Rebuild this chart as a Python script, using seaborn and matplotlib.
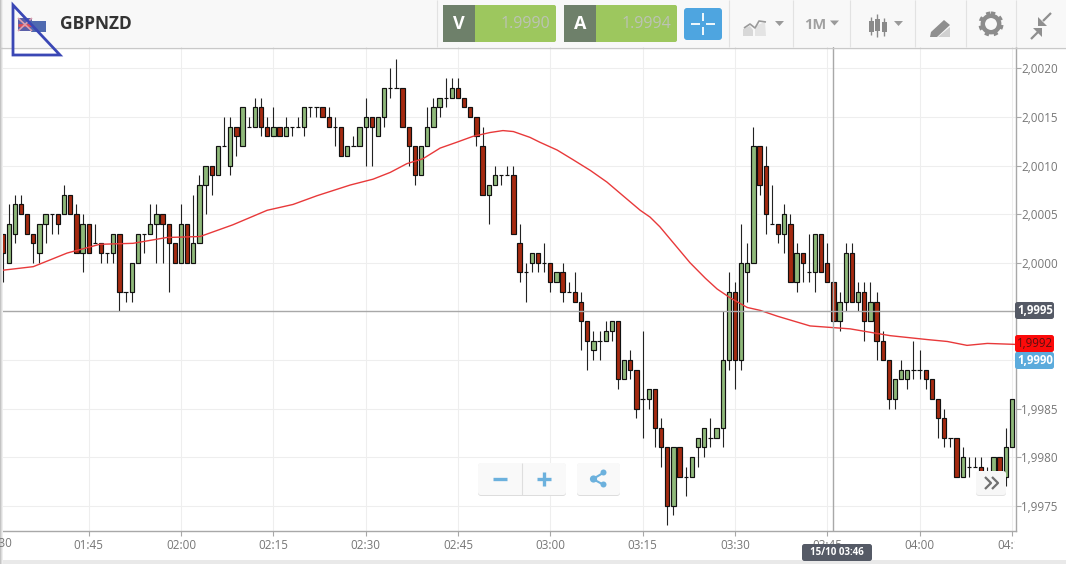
import pandas as pd
import seaborn as sns
import matplotlib
matplotlib.use('Agg')
import matplotlib.pyplot as plt
from matplotlib.patches import Rectangle, FancyBboxPatch, Polygon, Circle

# candles, one per minute, minute 0 = 01:30
# levels are pips above 1.9970
BASE = 1.9970
PIP = 0.0001
opens = [33,30,33,36,35,33,31,34,35,35,
         35,37,35,31,34,32,32,31,31,33,
         27,27,30,33,33,34,35,34,32,30,
         34,30,32,38,40,39,42,40,44,42,
         44,44,46,44,43,44,43,44,44,44,
         46,46,46,45,44,44,41,42,42,44,
         45,43,45,48,48,48,44,42,39,42,
         44,46,47,47,48,47,46,45,42,37,
         38,39,39,39,32,29,30,31,30,30,
         28,29,27,27,26,24,21,22,22,23,
         24,18,20,19,16,16,17,13,11,5,
         11,8,8,11,11,12,12,13,20,27,
         20,29,30,42,40,34,34,33,34,28,
         31,29,29,33,30,28,24,26,31,26,
         27,24,26,22,20,16,18,18,19,19,
         19,18,16,14,12,12,8,9,9,9,
         8,8,10,8,11]
closes = [31,34,36,35,33,32,34,35,35,34,
          37,35,31,34,31,32,31,31,33,27,
          27,30,33,33,34,35,34,32,30,34,
          30,32,38,40,39,42,42,44,43,46,
          44,46,44,43,44,43,44,44,44,46,
          46,46,45,44,44,41,42,42,44,45,
          44,45,48,48,48,44,42,39,42,44,
          46,47,47,48,47,46,45,43,37,38,
          39,39,39,33,29,29,31,30,30,28,
          29,27,27,26,24,22,22,22,23,24,
          18,20,19,15,16,17,13,11,5,11,
          8,8,10,12,13,12,13,20,27,20,
          30,30,42,38,35,34,33,35,28,31,
          30,29,33,29,28,24,26,31,26,27,
          24,26,22,20,16,18,19,19,19,19,
          18,16,14,12,12,8,10,9,9,8,
          8,10,8,11,16]
highs = [33,36,37,37,35,33,34,35,35,35,
         38,37,36,35,34,34,32,31,33,33,
         27,30,33,33,36,36,35,34,32,36,
         34,37,39,40,40,42,45,45,44,46,
         45,47,47,45,46,44,45,44,45,46,
         46,46,46,46,45,44,42,43,44,47,
         45,45,48,50,51,48,44,42,42,46,
         47,47,49,49,49,47,46,45,44,38,
         40,39,40,40,34,30,31,31,32,30,
         29,30,28,29,27,24,23,23,24,24,
         24,20,21,19,23,17,17,14,11,11,
         11,9,10,12,13,14,13,25,29,28,
         34,32,44,42,42,38,34,36,35,32,
         31,33,33,33,32,28,27,32,32,28,
         28,28,27,23,20,18,20,19,22,21,
         19,18,16,15,12,12,11,10,10,10,
         9,10,10,13,16]
lows = [28,30,32,35,33,30,30,32,33,33,
        35,35,31,29,31,32,30,30,30,25,
        26,26,30,31,33,30,30,27,30,30,
        30,30,32,35,37,39,42,39,41,42,
        44,44,43,43,43,43,43,43,44,43,
        45,45,45,44,42,41,41,42,42,40,
        40,43,44,47,48,44,40,38,39,42,
        44,45,46,47,47,46,45,42,37,34,
        38,38,39,33,28,26,29,29,29,27,
        28,26,27,26,21,19,20,20,22,22,
        17,18,18,14,12,15,11,9,3,4,
        8,6,8,9,10,11,12,11,19,17,
        19,26,30,37,33,34,32,31,28,27,
        28,28,27,29,28,24,23,25,26,25,
        22,24,20,20,15,15,18,17,18,18,
        17,16,12,11,11,8,8,8,9,8,
        8,8,8,7,11]

ma_minutes = [0.6,6,11.5,16.8,22.2,27.7,33.1,38.4,44,48.2,52.1,57.5,61.2,64,66.7,69.3,72.1,
              74.8,77.4,80.2,82.3,84,86.7,88.3,91.1,93.7,96.5,99.2,101.8,104.6,106.2,107.8,
              112.7,115.2,117.1,119.2,122,124.1,126.9,132.2,138.7,145.2,151.2,154.5,157.7,
              161,165.6]
ma_values = [1.99992,1.99996,2.00010,2.00019,2.00020,2.00026,2.00027,2.00039,2.00054,
             2.00060,2.00069,2.00080,2.00086,2.00093,2.00102,2.00107,2.00118,2.00124,
             2.00130,2.00134,2.00136,2.00135,2.00129,2.00124,2.00116,2.00106,2.00095,
             2.00083,2.00069,2.00054,2.00047,2.00037,2.00000,1.99984,1.99973,1.99964,
             1.99954,1.99951,1.99945,1.99935,1.99932,1.99925,1.99921,1.99919,1.99915,
             1.99917,1.99916]

time_ticks = [15,30,45,60,75,90,105,120,135,150,165]
time_labels = ['01:45','02:00','02:15','02:30','02:45','03:00','03:15','03:30','03:45','04:00','04:15']
first_time_label = '01:30'
price_ticks = [1.9975,1.9980,1.9985,1.9990,1.9995,2.0000,2.0005,2.0010,2.0015,2.0020]
# 1,9990 and 1,9995 sit under the badges
price_labels = ['1,9975','1,9980','1,9985','','','2,0000','2,0005','2,0010','2,0015','2,0020']

cross_minute = 136
cross_price = 1.9995

GREEN = '#8fb97a'
RED = '#a52a10'
GRID = '#eeeeee'
AXIS = '#a8a8a8'
TEXT = '#777777'

sns.set_theme(style='whitegrid', rc={'grid.color': GRID, 'grid.linewidth': 0.8,
                                     'axes.edgecolor': AXIS, 'axes.linewidth': 1.0})
plt.rcParams['font.family'] = ['Open Sans', 'DejaVu Sans']

df = pd.DataFrame({'minute': range(1, len(opens) + 1), 'open': opens, 'high': highs,
                   'low': lows, 'close': closes})
for col in ['open', 'high', 'low', 'close']:
    df[col] = BASE + df[col] * PIP
df['color'] = [GREEN if c >= o else RED for o, c in zip(df['open'], df['close'])]
ma = pd.DataFrame({'minute': ma_minutes, 'value': ma_values})

W, H = 1066, 564
fig = plt.figure(figsize=(W / 100, H / 100), dpi=100, facecolor='white')

# plot area is x 0..1016, y 47..531 in pixels
ax = fig.add_axes([0, 1 - 531 / H, 1016 / W, 484 / H])

ax.vlines(df['minute'], df['low'], df['high'], color='#222222', lw=0.8, zorder=2)
ax.bar(df['minute'], (df['close'] - df['open']).abs(), bottom=df[['open', 'close']].min(axis=1),
       width=0.7, color=df['color'], edgecolor='#111111', linewidth=0.85, zorder=3)
sns.lineplot(data=ma, x='minute', y='value', ax=ax, color='#e8393a', lw=1.0, zorder=4)
ax.axhline(cross_price, color=AXIS, lw=1.0, zorder=5)
ax.axvline(cross_minute, color=AXIS, lw=1.0, zorder=5)

ax.set_xticks(time_ticks)
ax.set_xticklabels(time_labels)
ax.set_yticks(price_ticks)
ax.set_yticklabels(price_labels)
ax.set_xlim(0.589, 165.66)
ax.set_ylim(1.99724, 2.00222)
ax.set_xlabel('')
ax.set_ylabel('')
ax.yaxis.tick_right()
ax.tick_params(axis='both', which='both', length=3.4, width=0.8, color=AXIS, labelcolor=TEXT,
               labelsize=8.4)
ax.tick_params(axis='x', pad=2.2, bottom=True)
ax.tick_params(axis='y', pad=0.5, right=True)
ax.spines['top'].set_visible(False)
ax.spines['left'].set_visible(False)
ax.grid(True, zorder=0)
ax.set_axisbelow(True)

# toolbar, badges and buttons, in pixel coordinates
ui = fig.add_axes([0, 0, 1, 1], zorder=5)
ui.set_xlim(0, W)
ui.set_ylim(H, 0)
ui.axis('off')
ui.patch.set_alpha(0)


def rect(x0, y0, x1, y1, color, **kw):
    ui.add_patch(Rectangle((x0, y0), x1 - x0, y1 - y0, facecolor=color, edgecolor='none', **kw))


def rbox(x0, y0, x1, y1, color, edge='none', r=2.5):
    ui.add_patch(FancyBboxPatch((x0 + r, y0 + r), x1 - x0 - 2 * r, y1 - y0 - 2 * r,
                                boxstyle='round,pad=%s,rounding_size=%s' % (r, r),
                                facecolor=color, edgecolor=edge, lw=0.7))


def line(xs, ys, color, lw=1.0):
    ui.plot(xs, ys, color=color, lw=lw, solid_capstyle='butt')


def tri(x, y, color='#9a9a9a'):
    ui.add_patch(Polygon([(x, y), (x + 9, y), (x + 4.5, y + 5)], facecolor=color, edgecolor='none'))


# the 01:30 label runs off the left edge of the picture
ui.text(-3, 543.5, first_time_label, color=TEXT, fontsize=8.4, ha='center', va='center', clip_on=False)

# cut the last time label at the axis edge, bottom band, left shadow
rect(1015, 533, W, 556, 'white')
rect(0, 560, W, 564, '#e9e9e9')
rect(0, 0, W, 47, '#f8f8f8')
line([0, W], [47.5, 47.5], '#c9c9c9', 1.0)
for sep in [437, 728.5, 793, 849.5, 915, 965.5, 1016]:
    line([sep, sep], [0, 47], '#e2e2e2', 0.8)
rect(0, 0, 1, H, '#c4c4c4')
rect(1, 0, 2, H, '#dcdcdc')
rect(2, 0, 3, H, '#eeeeee')

# flag and title
rect(18, 18, 32, 31, '#5a5fa8')
line([18, 32], [24.5, 24.5], '#e04b55', 2.0)
line([18, 32], [18, 31], '#d9a0b0', 1.2)
line([18, 32], [31, 18], '#d9a0b0', 1.2)
rect(31, 21, 46, 32, '#4f6ab0')
ui.text(60, 24, 'GBPNZD', fontsize=12.5, fontweight='bold', color='#333333', va='center', ha='left')
ui.add_patch(Polygon([(13, 5), (13, 55), (60, 55)], closed=True, facecolor='none',
                     edgecolor='#3a47b5', lw=2.0, zorder=6))

# V and A buttons
for x0, letter, value in [(443, 'V', '1.9990'), (564, 'A', '1.9994')]:
    rbox(x0, 5, x0 + 113, 42, '#9dc75e', r=2)
    rect(x0, 5, x0 + 32, 42, '#6e806a')
    ui.text(x0 + 16, 24, letter, color='white', fontsize=13, fontweight='bold', ha='center', va='center')
    ui.text(x0 + 107, 24, value, color='#bcc3b4', fontsize=11.5, ha='right', va='center')

# crosshair button
rbox(684, 8, 722, 40, '#4ea5e0', r=3)
line([691, 700], [24, 24], 'white', 1.3)
line([706, 715], [24, 24], 'white', 1.3)
line([703, 703], [13, 21], 'white', 1.3)
line([703, 703], [27, 35], 'white', 1.3)

# chart type icon
ui.add_patch(Polygon([(743, 36), (743, 29), (750, 26), (753, 30), (753, 36)], facecolor='#d8d8d8', edgecolor='none'))
ui.add_patch(Polygon([(755, 36), (755, 26), (765, 22), (766, 36)], facecolor='#e4e4e4', edgecolor='none'))
line([744, 750, 755, 759, 766], [28, 24, 28, 21, 22], '#9a9a9a', 1.2)
tri(775, 21)

ui.text(815, 25, '1M', color='#a0a0a0', fontsize=10.5, fontweight='bold', ha='center', va='center')
tri(830, 20.5)

# candle icon
for cx, y0, y1, b0, b1 in [(871, 17, 35, 21, 32), (877, 14, 37, 19, 31), (884, 18, 36, 22, 32)]:
    line([cx, cx], [y0, y1], '#8a8a8a', 1.0)
    rect(cx - 2.5, b0, cx + 2.5, b1, '#8a8a8a')
tri(894, 21)

# pencil icon
ui.add_patch(Polygon([(931, 32), (944, 20), (950, 25), (937, 37), (930, 37)], facecolor='#8f8f8f', edgecolor='none'))
ui.add_patch(Polygon([(938, 37), (950, 27), (950, 37)], facecolor='#d0d0d0', edgecolor='none'))

# gear icon
ui.add_patch(Circle((991, 24), 8.2, facecolor='none', edgecolor='#8c8c8c', lw=3.2))
ui.add_patch(Circle((991, 24), 11, facecolor='none', edgecolor='#8c8c8c', lw=2.2, ls=(0, (1.4, 1.6))))

# compress arrows
line([1043, 1051], [21, 13], '#8f8f8f', 1.6)
ui.add_patch(Polygon([(1038, 17), (1038, 26), (1047, 26)], facecolor='#8f8f8f', edgecolor='none'))
line([1031, 1039], [39, 31], '#8f8f8f', 1.6)
ui.add_patch(Polygon([(1033, 28), (1042, 28), (1042, 37)], facecolor='#8f8f8f', edgecolor='none'))

# price badges
rbox(1015, 302, 1054, 319, '#555a66')
ui.text(1035, 310.5, '1,9995', color='white', fontsize=8.3, fontweight='bold', ha='center', va='center')
rbox(1015, 335, 1054, 352, '#fb0a0a')
ui.text(1035, 343.5, '1,9992', color='#5a1010', fontsize=8.3, ha='center', va='center')
rbox(1015, 352, 1054, 369, '#5cabdc')
ui.text(1035, 360.5, '1,9990', color='white', fontsize=8.3, fontweight='bold', ha='center', va='center')

# date tag
rbox(802, 544, 872, 561, '#555a66')
ui.text(837, 552.5, '15/10 03:46', color='white', fontsize=7, fontweight='bold', ha='center', va='center')

# zoom and share buttons
rbox(478, 463.5, 566, 496, '#dddddd', r=3)
rbox(478, 463, 566, 495, '#f9f9f9', r=3)
line([521.5, 521.5], [463, 495], '#dedede', 0.8)
line([493, 507], [478.5, 478.5], '#6cb1dd', 2.4)
line([537, 551], [478.5, 478.5], '#6cb1dd', 2.4)
line([544, 544], [471.5, 485.5], '#6cb1dd', 2.4)
rbox(577, 463.5, 620, 496, '#dddddd', r=3)
rbox(577, 463, 620, 495, '#f9f9f9', r=3)
line([593, 603], [479, 473], '#6cb1dd', 1.5)
line([593, 603], [479, 484.5], '#6cb1dd', 1.5)
for cx, cy, rad in [(593.5, 479, 3.6), (603.5, 472.5, 3), (603.5, 484.5, 3)]:
    ui.add_patch(Circle((cx, cy), rad, facecolor='#6cb1dd', edgecolor='none'))

# scroll button
rbox(976, 471.5, 1006, 496, '#e2e2e2', r=3)
rbox(976, 471, 1006, 495, '#f7f7f7', r=3)
line([985, 991, 985], [477, 483, 489], '#707070', 1.6)
line([992, 998, 992], [477, 483, 489], '#707070', 1.6)

fig.savefig('out.png', dpi=100)
